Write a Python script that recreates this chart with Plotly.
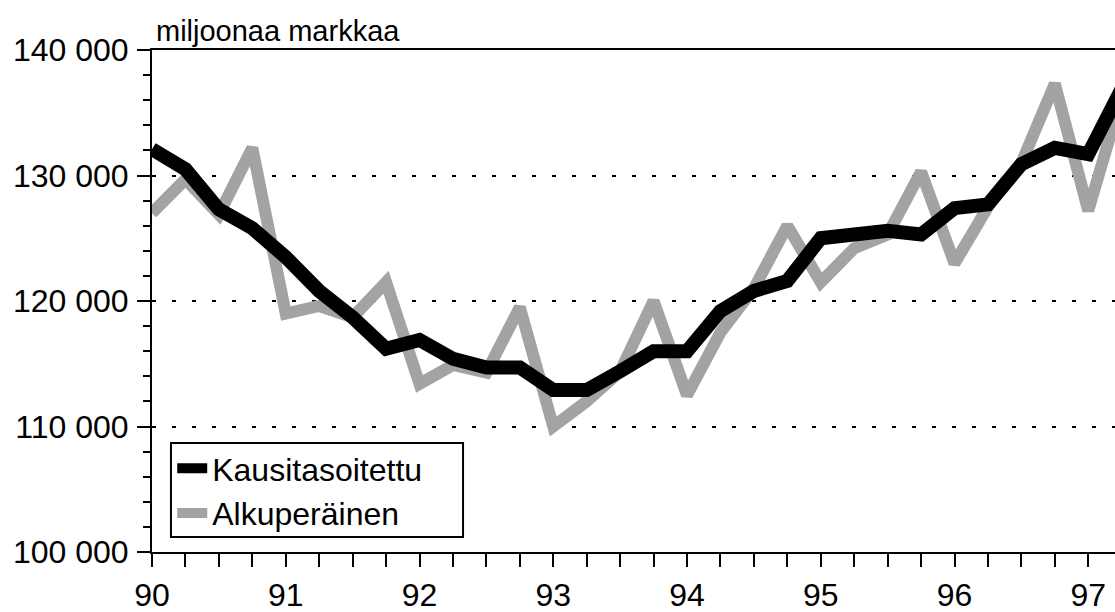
import plotly.graph_objects as go

# --- data ---------------------------------------------------------------
years = [90, 90, 90, 90, 91, 91, 91, 91, 92, 92, 92, 92, 93, 93, 93, 93,
         94, 94, 94, 94, 95, 95, 95, 95, 96, 96, 96, 96, 97, 97]
quarters = [1, 2, 3, 4] * 7 + [1, 2]

kausitasoitettu = [132100, 130500, 127300, 125800,
                   123500, 120800, 118700, 116200,
                   116900, 115400, 114700, 114700,
                   112900, 112900, 114400, 116000,
                   116000, 119200, 120800, 121600,
                   125000, 125400, 125600, 125300,
                   127400, 127700, 130900, 132200,
                   131700, 136900]

alkuperainen = [127000, 129700, 126900, 132200,
                119000, 119600, 118700, 121500,
                113400, 114900, 114300, 119500,
                110000, 112000, 114400, 120000,
                112500, 117500, 121000, 126000,
                121500, 124200, 125300, 130300,
                123000, 127500, 131000, 137300,
                127200, 136300]

year_ticks = [90, 91, 92, 93, 94, 95, 96, 97]
year_labels = ["90", "91", "92", "93", "94", "95", "96", "97"]
y_ticks = [100000, 110000, 120000, 130000, 140000]
y_labels = ["100 000", "110 000", "120 000", "130 000", "140 000"]

x = [y + (q - 1) / 4 for y, q in zip(years, quarters)]

FONT = "Liberation Sans, Arial, Helvetica, sans-serif"

fig = go.Figure()
fig.add_trace(go.Scatter(
    x=x, y=alkuperainen, mode="lines", name="Alkuperäinen",
    line=dict(color="#a3a3a3", width=12), legendrank=2, hoverinfo="skip",
))
fig.add_trace(go.Scatter(
    x=x, y=kausitasoitettu, mode="lines", name="Kausitasoitettu",
    line=dict(color="#000000", width=14), legendrank=1, hoverinfo="skip",
))

fig.update_layout(
    width=1115, height=612,
    margin=dict(l=152, r=0, t=50, b=60),
    paper_bgcolor="white", plot_bgcolor="white",
    font=dict(family=FONT, color="black", size=32),
    showlegend=True,
    legend=dict(
        x=0.021, y=0.221, xanchor="left", yanchor="top",
        borderwidth=0, bgcolor="rgba(0,0,0,0)",
        font=dict(family=FONT, size=32, color="black"),
        itemwidth=30, tracegroupgap=0,
    ),
    shapes=[dict(
        type="rect", xref="paper", yref="paper",
        x0=0.0197, x1=0.323, y0=0.030, y1=0.217,
        line=dict(color="black", width=2), fillcolor="white", layer="above",
    )],
    annotations=[dict(
        text="miljoonaa markkaa", xref="paper", yref="paper",
        x=0, y=1, xanchor="left", yanchor="bottom", xshift=2, yshift=1,
        showarrow=False, font=dict(family=FONT, size=29, color="black"),
    )],
)

fig.update_xaxes(
    range=[90, 97.2], tickmode="array", tickvals=year_ticks, ticktext=year_labels,
    showline=True, linecolor="black", linewidth=2, mirror=True,
    ticks="outside", ticklen=13, tickwidth=1.5, tickcolor="black",
    minor=dict(ticks="outside", ticklen=13, tickwidth=1.5, tickcolor="black",
               dtick=0.25, tick0=90, showgrid=False),
    showgrid=False, zeroline=False, ticklabelstandoff=1, automargin=False,
    tickfont=dict(family=FONT, size=32, color="black"),
)
fig.update_yaxes(
    range=[100000, 140000], tickmode="array", tickvals=y_ticks, ticktext=y_labels,
    showline=True, linecolor="black", linewidth=2,
    ticks="outside", ticklen=13, tickwidth=1.5, tickcolor="black",
    minor=dict(ticks="outside", ticklen=7, tickwidth=1.5, tickcolor="black",
               dtick=2000, tick0=100000, showgrid=False),
    showgrid=True, gridcolor="black", gridwidth=1.5, griddash="4px,16px",
    zeroline=False, ticklabelstandoff=2, automargin=False,
    tickfont=dict(family=FONT, size=32, color="black"),
)

# remove the default page margin so the 1115x612 figure fills the window exactly
fig.write_html(
    "out.html",
    config={"displayModeBar": False},
    post_script="document.body.style.margin='0';document.body.style.overflow='hidden';",
)
